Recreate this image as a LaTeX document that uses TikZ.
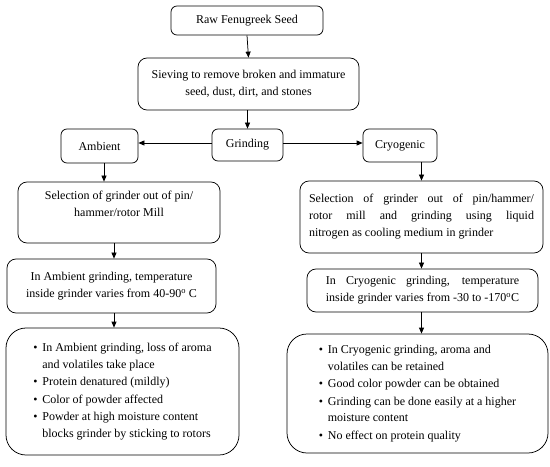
\documentclass[tikz,border=0pt]{standalone}
\usepackage{fontspec}
\setmainfont{Liberation Serif}
\usetikzlibrary{arrows.meta}
\newlength\wA
\begin{document}
\settowidth\wA{\fontsize{12bp}{17bp}\selectfont inside grinder varies from -30 to -170\textsuperscript{o}C}
\begin{tikzpicture}[x=1bp,y=-1bp,
  every node/.style={font=\fontsize{12bp}{17bp}\selectfont},
  box/.style={draw, line width=0.75bp, rounded corners=6bp, inner sep=0pt},
  midbox/.style={box, rounded corners=9bp},
  bigbox/.style={box, rounded corners=20bp, font=\fontsize{12bp}{16.5bp}\selectfont},
  arr/.style={line width=0.75bp, -{Triangle[length=6bp,width=5bp]}}]
\useasboundingbox (0,0) rectangle (550,467);

\node[box, minimum width=152bp, minimum height=29bp] (raw) at (247,20.5) {Raw Fenugreek Seed};
\node[midbox, minimum width=221bp, minimum height=52bp, align=center] (sieve) at (248.5,84)
  {Sieving to remove broken and immature\\seed, dust, dirt, and stones};
\node[box, minimum width=71bp, minimum height=32bp] (grind) at (247.5,145) {Grinding};
\node[box, minimum width=77bp, minimum height=34bp] (amb) at (99.5,146) {Ambient};
\node[box, minimum width=74bp, minimum height=33bp] (cryo) at (400,145.5) {Cryogenic};

\node[midbox, minimum width=202bp, minimum height=61bp, align=center, text depth=18bp] (selL) at (119,212.5)
  {Selection of grinder out of pin/\\hammer/rotor Mill};
\node[midbox, minimum width=243bp, minimum height=72bp, align=left] (selR) at (421.5,217)
  {\makebox[225bp][s]{Selection of grinder out of pin/hammer/}\\
   \makebox[225bp][s]{rotor mill and grinding using liquid}\\
   nitrogen as cooling medium in grinder};

\node[midbox, minimum width=209bp, minimum height=54bp, align=center] (ambT) at (111.5,286)
  {In Ambient grinding, temperature\\inside grinder varies from 40-90\textsuperscript{o} C};
\node[midbox, minimum width=231bp, minimum height=43bp, align=left] (cryT) at (422.5,290.5)
  {\makebox[\wA][s]{In Cryogenic grinding, temperature}\\
   inside grinder varies from -30 to -170\textsuperscript{o}C};

\node[bigbox, minimum width=233bp, minimum height=127bp, align=left] (bulL) at (122.5,391.5)
  {\makebox[9bp][l]{\textbullet}In Ambient grinding, loss of aroma\\
   \hspace*{9bp}and volatiles take place\\[1bp]
   \makebox[9bp][l]{\textbullet}Protein denatured (mildly)\\[1bp]
   \makebox[9bp][l]{\textbullet}Color of powder affected\\[1bp]
   \makebox[9bp][l]{\textbullet}Powder at high moisture content\\
   \hspace*{9bp}blocks grinder by sticking to rotors};
\node[bigbox, minimum width=261bp, minimum height=119bp, align=left] (bulR) at (417.5,393.5)
  {\makebox[9bp][l]{\textbullet}In Cryogenic grinding, aroma and\\
   \hspace*{9bp}volatiles can be retained\\[1bp]
   \makebox[9bp][l]{\textbullet}Good color powder can be obtained\\[1bp]
   \makebox[9bp][l]{\textbullet}Grinding can be done easily at a higher\\
   \hspace*{9bp}moisture content\\[1bp]
   \makebox[9bp][l]{\textbullet}No effect on protein quality};

\draw[arr] (raw.south) -- (sieve.north);
\draw[arr] (sieve.south -| grind.north) -- (grind.north);
\draw[arr] ([yshift=2bp]grind.west) -- ([yshift=2bp]grind.west -| amb.east);
\draw[arr] ([yshift=2bp]grind.east) -- ([yshift=2bp]grind.east -| cryo.west);
\draw[arr] ([xshift=4.5bp]amb.south) -- ([xshift=4.5bp]amb.south |- selL.north);
\draw[arr] ([xshift=-5bp]selL.south) -- ([xshift=-5bp]selL.south |- ambT.north);
\draw[arr] ([xshift=-5bp]selL.south |- ambT.south) -- ([xshift=-5bp]selL.south |- bulL.north);
\draw[arr] (cryo.south -| selR.north) -- (selR.north);
\draw[arr] (selR.south) -- (selR.south |- cryT.north);
\draw[arr] (cryT.south -| selR.south) -- (bulR.north -| selR.south);
\end{tikzpicture}
\end{document}
